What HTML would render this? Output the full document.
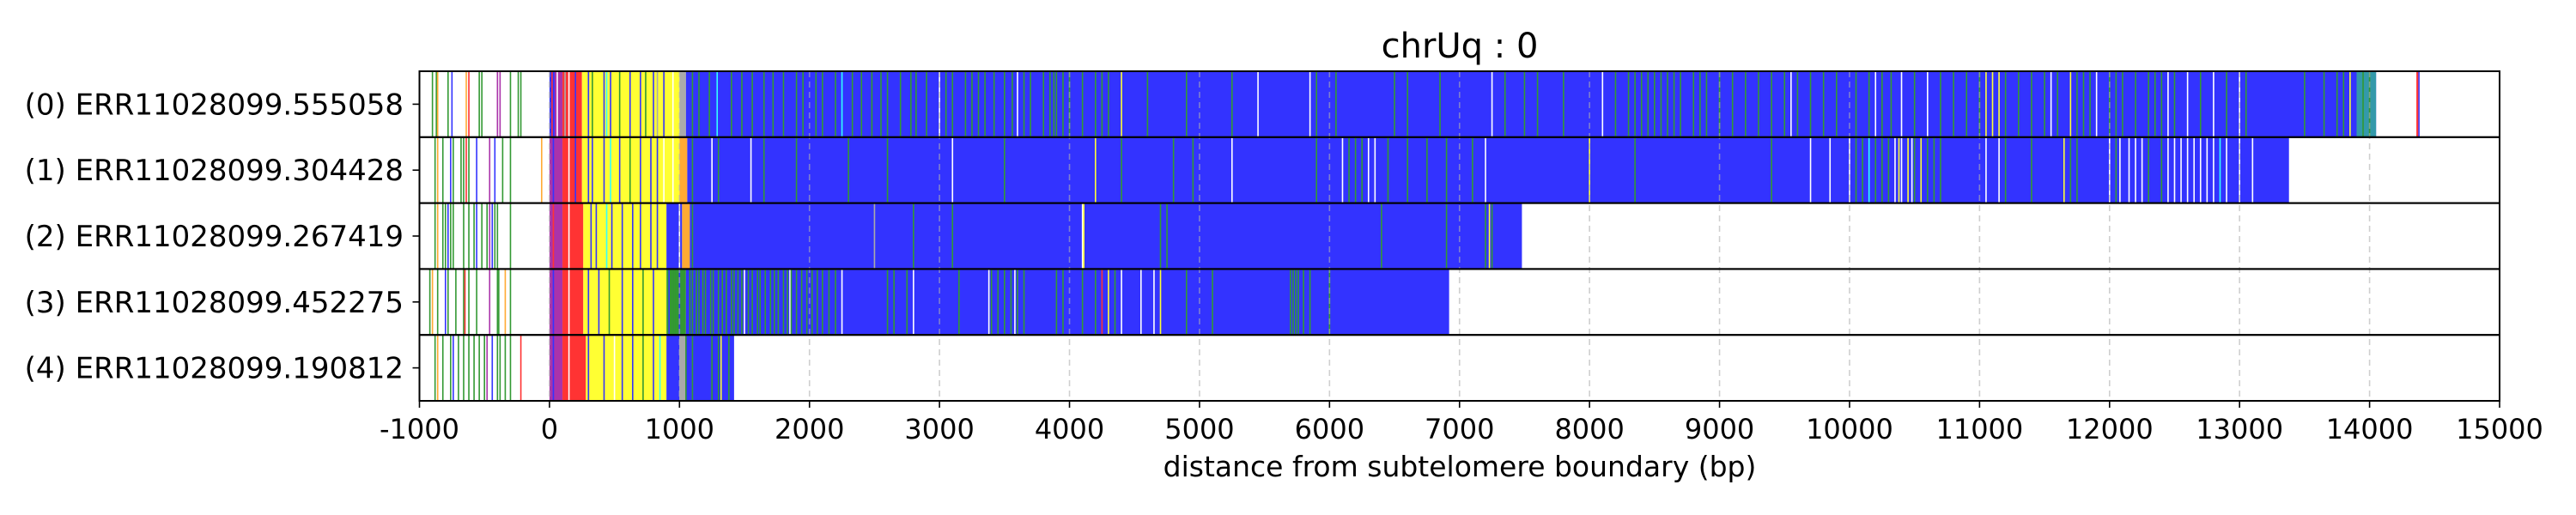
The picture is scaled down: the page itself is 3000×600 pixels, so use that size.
<!DOCTYPE html>
<html><head><meta charset="utf-8"><style>
html,body{margin:0;padding:0;background:#fff;}
svg{display:block;font-family:"DejaVu Sans","Liberation Sans",sans-serif;}
</style></head><body>
<svg id="chart" width="3000" height="600" viewBox="0 0 3000 600" xmlns="http://www.w3.org/2000/svg">
<rect width="3000" height="600" fill="#fff"/>
<text x="1700" y="67" font-size="40" text-anchor="middle">chrUq : 0</text>
<text x="1700" y="555" font-size="33" text-anchor="middle">distance from subtelomere boundary (bp)</text>
<g id="data-layer"></g><g id="grid-layer"></g><g id="axis-layer"></g>
</svg>
<script>
const readLabels = ["(0) ERR11028099.555058","(1) ERR11028099.304428","(2) ERR11028099.267419","(3) ERR11028099.452275","(4) ERR11028099.190812"];
const xTicks = [-1000,0,1000,2000,3000,4000,5000,6000,7000,8000,9000,10000,11000,12000,13000,14000,15000];
const xTickLabels = ["-1000","0","1000","2000","3000","4000","5000","6000","7000","8000","9000","10000","11000","12000","13000","14000","15000"];
// base segments [start, end, colorKey]
const seg0 = [[0,40,"B"],[40,100,"P"],[100,250,"R"],[250,1000,"Y"],[1000,1050,"K"],[1050,14050,"B"],[13900,14050,"T"],[14360,14375,"R"],[14375,14385,"B"]];
const seg1 = [[0,100,"P"],[100,250,"R"],[250,1000,"Y"],[1000,1060,"O"],[1060,13380,"B"]];
const seg2 = [[0,100,"P"],[100,260,"R"],[260,900,"Y"],[900,1020,"B"],[1020,1080,"O"],[1080,7480,"B"]];
const seg3 = [[0,100,"P"],[100,260,"R"],[260,900,"Y"],[900,1050,"G"],[1050,6920,"B"]];
const seg4 = [[0,100,"P"],[100,280,"R"],[280,900,"Y"],[900,1000,"B"],[1000,1050,"K"],[1050,1420,"B"]];
// thin stripes [position, colorKey]
const str0 = [[-900,"G"],[-870,"G"],[-860,"O"],[-780,"G"],[-750,"B"],[-640,"O"],[-620,"R"],[-540,"G"],[-520,"G"],[-400,"P"],[-380,"P"],[-300,"G"],[-240,"G"],[-220,"G"],
[20,"R"],[60,"W"],[120,"K"],[150,"W"],[200,"B"],[300,"B"],[330,"G"],[420,"B"],[440,"C"],[470,"B"],[540,"G"],[620,"B"],[700,"B"],[740,"G"],[800,"B"],[830,"K"],[880,"B"],[950,"W"],
[1100,"G"],[1150,"G"],[1230,"G"],[1290,"C"],[1400,"G"],[1480,"G"],[1560,"G"],[1650,"G"],[1720,"G"],[1800,"G"],[1900,"G"],[1950,"G"],[2050,"G"],[2100,"G"],[2200,"G"],[2250,"C"],[2330,"G"],[2400,"G"],[2480,"G"],[2550,"G"],[2600,"G"],[2700,"G"],[2780,"G"],[2820,"G"],[2900,"G"],[3000,"W"],[3050,"G"],[3100,"G"],[3200,"G"],[3250,"G"],[3300,"G"],[3350,"G"],[3420,"G"],[3500,"G"],[3560,"G"],[3600,"W"],[3650,"G"],[3700,"G"],[3800,"G"],[3850,"G"],[3880,"G"],[3900,"G"],[3950,"G"],[4000,"G"],[4100,"G"],[4200,"G"],[4250,"G"],[4300,"G"],[4400,"Y"],[4600,"G"],[4900,"G"],[5250,"G"],[5450,"W"],[5850,"W"],[5900,"G"],[6050,"G"],[6500,"G"],[6600,"G"],[6850,"G"],[7250,"W"],[7350,"G"],[7500,"G"],[7600,"G"],[7800,"G"],[8100,"W"],[8200,"G"],[8300,"G"],[8350,"G"],[8400,"G"],[8450,"G"],[8500,"G"],[8550,"G"],[8600,"G"],[8650,"G"],[8700,"G"],[8800,"G"],[8850,"G"],[8900,"G"],[9000,"G"],[9100,"G"],[9200,"G"],[9300,"G"],[9400,"G"],[9500,"G"],[9550,"W"],[9600,"G"],[9700,"G"],[9800,"G"],[9900,"G"],[10050,"G"],[10150,"G"],[10200,"W"],[10250,"G"],[10320,"G"],[10400,"W"],[10500,"G"],[10600,"W"],[10700,"G"],[10800,"G"],[10900,"G"],[11000,"G"],[11050,"Y"],[11100,"Y"],[11150,"Y"],[11200,"G"],[11300,"G"],[11400,"G"],[11500,"G"],[11550,"W"],[11600,"G"],[11700,"Y"],[11750,"G"],[11800,"G"],[11850,"G"],[11900,"W"],[12000,"G"],[12050,"G"],[12100,"G"],[12200,"G"],[12300,"G"],[12350,"G"],[12400,"G"],[12450,"W"],[12500,"G"],[12600,"W"],[12700,"G"],[12800,"W"],[12900,"G"],[13000,"W"],[13050,"G"],[13500,"G"],[13650,"G"],[13750,"G"],[13800,"G"],[13850,"Y"],[13950,"G"],[14000,"G"]];
const str1 = [[-880,"G"],[-860,"O"],[-820,"G"],[-760,"B"],[-740,"G"],[-680,"G"],[-660,"G"],[-640,"R"],[-620,"G"],[-560,"B"],[-460,"P"],[-420,"B"],[-360,"G"],[-300,"G"],[-60,"O"],
[30,"B"],[150,"W"],[200,"B"],[300,"B"],[330,"B"],[420,"B"],[470,"C"],[540,"B"],[620,"G"],[700,"B"],[780,"B"],[830,"B"],[880,"W"],[950,"W"],
[1100,"G"],[1250,"W"],[1300,"G"],[1550,"W"],[1650,"G"],[1900,"G"],[2300,"G"],[2600,"G"],[3100,"W"],[3500,"G"],[4200,"Y"],[4400,"G"],[4800,"G"],[4950,"G"],[5250,"W"],[5900,"G"],[6100,"W"],[6150,"G"],[6200,"G"],[6250,"G"],[6300,"W"],[6350,"W"],[6450,"G"],[6600,"G"],[6750,"G"],[6900,"G"],[7100,"G"],[7200,"W"],[8000,"Y"],[8350,"G"],[9400,"G"],[9700,"W"],[9850,"W"],[10000,"W"],[10050,"G"],[10100,"G"],[10150,"C"],[10200,"G"],[10250,"G"],[10300,"G"],[10350,"W"],[10380,"Y"],[10400,"W"],[10450,"Y"],[10480,"W"],[10500,"G"],[10550,"Y"],[10600,"G"],[10650,"G"],[10700,"G"],[11050,"W"],[11150,"W"],[11200,"G"],[11400,"G"],[11650,"Y"],[11700,"G"],[11750,"G"],[12000,"W"],[12050,"G"],[12080,"W"],[12150,"W"],[12200,"W"],[12250,"W"],[12300,"G"],[12400,"G"],[12450,"W"],[12500,"W"],[12550,"W"],[12600,"W"],[12650,"W"],[12700,"W"],[12750,"W"],[12800,"W"],[12850,"C"],[12900,"W"],[13000,"W"],[13100,"W"]];
const str2 = [[-880,"G"],[-860,"O"],[-820,"G"],[-800,"G"],[-780,"B"],[-760,"G"],[-740,"G"],[-660,"G"],[-620,"G"],[-580,"G"],[-560,"B"],[-520,"G"],[-480,"G"],[-460,"P"],[-440,"B"],[-420,"G"],[-400,"G"],[-300,"G"],
[30,"R"],[150,"W"],[320,"B"],[360,"B"],[440,"C"],[480,"B"],[560,"B"],[640,"B"],[700,"B"],[780,"B"],[830,"B"],[1000,"W"],
[1100,"G"],[2500,"K"],[2800,"G"],[3100,"G"],[4100,"W"],[4110,"Y"],[4700,"G"],[4750,"G"],[6400,"G"],[6900,"G"],[7200,"G"],[7230,"Y"],[7250,"G"]];
const str3 = [[-920,"G"],[-900,"O"],[-860,"G"],[-800,"B"],[-780,"G"],[-720,"G"],[-660,"G"],[-650,"R"],[-620,"G"],[-560,"G"],[-460,"P"],[-400,"G"],[-390,"G"],[-340,"O"],[-300,"G"],
[30,"B"],[150,"W"],[300,"B"],[380,"B"],[460,"G"],[560,"B"],[640,"B"],[720,"G"],[800,"B"],
[920,"B"],[960,"G"],[1000,"B"],[1040,"G"],[1080,"G"],[1100,"G"],[1130,"G"],[1150,"G"],[1180,"G"],[1200,"G"],[1240,"G"],[1260,"G"],[1300,"G"],[1330,"G"],[1360,"G"],[1400,"G"],[1420,"G"],[1450,"G"],[1480,"G"],[1500,"W"],[1530,"G"],[1560,"G"],[1600,"G"],[1620,"G"],[1660,"G"],[1700,"G"],[1730,"G"],[1760,"G"],[1800,"G"],[1830,"G"],[1850,"W"],[1860,"G"],[1900,"G"],[1940,"G"],[1980,"G"],[2020,"G"],[2060,"G"],[2100,"G"],[2150,"G"],[2200,"G"],[2250,"W"],[2600,"G"],[2650,"G"],[2750,"G"],[2800,"W"],[3150,"G"],[3380,"W"],[3400,"G"],[3450,"G"],[3500,"G"],[3550,"G"],[3580,"W"],[3600,"G"],[3650,"G"],[3900,"G"],[3950,"G"],[4100,"G"],[4200,"G"],[4250,"R"],[4300,"Y"],[4350,"G"],[4400,"W"],[4550,"W"],[4650,"W"],[4700,"Y"],[4900,"G"],[5100,"G"],[5700,"G"],[5720,"G"],[5740,"G"],[5760,"G"],[5800,"G"],[5850,"G"],[6000,"G"]];
const str4 = [[-880,"G"],[-860,"O"],[-820,"G"],[-760,"G"],[-740,"B"],[-700,"G"],[-660,"G"],[-620,"G"],[-580,"G"],[-540,"G"],[-500,"G"],[-480,"P"],[-440,"B"],[-400,"G"],[-380,"G"],[-340,"G"],[-300,"G"],[-220,"R"],
[30,"B"],[150,"W"],[300,"B"],[420,"B"],[500,"W"],[560,"B"],[640,"B"],[720,"G"],[800,"B"],[850,"C"],
[1050,"G"],[1100,"G"],[1250,"G"],[1300,"G"],[1320,"Y"],[1380,"G"]];

const COLORS = {B:"#3333ff",Y:"#ffff33",G:"#339933",R:"#ff3333",O:"#ffaa33",P:"#aa33aa",C:"#33ffff",W:"#ffffff",K:"#aaaaaa",T:"#3399aa"};
const segsAll = [seg0,seg1,seg2,seg3,seg4];
const stripesAll = [str0,str1,str2,str3,str4];

const NS = "http://www.w3.org/2000/svg";
const L = 488.5, R = 2911, T = 83, BOT = 467;
const XMIN = -1000, XMAX = 15000;
const rowH = (BOT - T) / readLabels.length;
function xs(v){ return L + (v - XMIN) / (XMAX - XMIN) * (R - L); }
function mk(tag, attrs, parent){ const e = document.createElementNS(NS, tag); for (const k in attrs) e.setAttribute(k, attrs[k]); parent.appendChild(e); return e; }

const dataLayer = document.getElementById("data-layer");
const gridLayer = document.getElementById("grid-layer");
const axisLayer = document.getElementById("axis-layer");

segsAll.forEach((segs, i) => {
  const y0 = T + i * rowH;
  const g = mk("g", {}, dataLayer);
  
  
  segs.forEach(s => {
    const r = mk("rect", {x: xs(s[0]), y: y0, width: Math.max(1, xs(s[1]) - xs(s[0])), height: rowH, fill: COLORS[s[2]]}, g);
    
    
  });
  stripesAll[i].forEach(s => {
    const r = mk("rect", {x: xs(s[0]) - 0.8, y: y0, width: 1.6, height: rowH, fill: COLORS[s[1]]}, g);
    
    
  });
});

xTicks.forEach((t, j) => {
  const x = xs(t);
  if (t > XMIN && t < XMAX) {
    const gl = mk("line", {x1: x, x2: x, y1: T, y2: BOT, stroke: "#b0b0b0", "stroke-width": 1.6, "stroke-dasharray": "7,5", opacity: 0.6}, gridLayer);
    
    
  }
  const tk = mk("line", {x1: x, x2: x, y1: BOT, y2: BOT + 8, stroke: "#000", "stroke-width": 1.6}, axisLayer);
  
  
  const lb = mk("text", {x: x, y: 511, "font-size": 32, "text-anchor": "middle"}, axisLayer);
  lb.textContent = xTickLabels[j];
  
  
});

readLabels.forEach((name, i) => {
  const y0 = T + i * rowH;
  const fr = mk("rect", {x: L, y: y0, width: R - L, height: rowH, fill: "none", stroke: "#000", "stroke-width": 2}, axisLayer);
  
  
  const yc = y0 + rowH / 2;
  const tk = mk("line", {x1: L - 8, x2: L, y1: yc, y2: yc, stroke: "#000", "stroke-width": 1.6}, axisLayer);
  
  
  const lb = mk("text", {x: 470, y: yc + 12, "font-size": 34, "text-anchor": "end"}, axisLayer);
  lb.textContent = name;
  
  
});
</script>
</body></html>
